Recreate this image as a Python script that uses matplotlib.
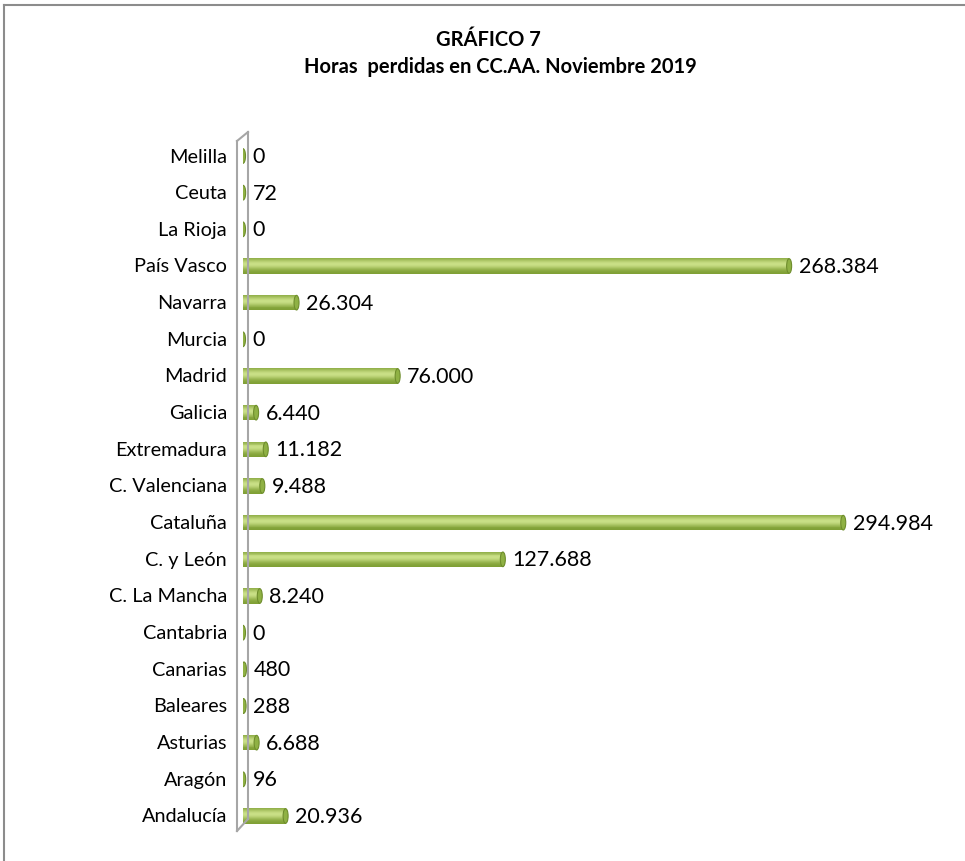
import numpy as np
import matplotlib.pyplot as plt
from matplotlib.patches import Ellipse
from matplotlib.colors import to_rgb

plt.rcParams['font.family'] = ['Lato', 'DejaVu Sans']

regiones = ['Andalucía', 'Aragón', 'Asturias', 'Baleares', 'Canarias', 'Cantabria',
            'C. La Mancha', 'C. y León', 'Cataluña', 'C. Valenciana', 'Extremadura',
            'Galicia', 'Madrid', 'Murcia', 'Navarra', 'País Vasco', 'La Rioja',
            'Ceuta', 'Melilla']
horas = [20936, 96, 6688, 288, 480, 0, 8240, 127688, 294984, 9488, 11182,
         6440, 76000, 0, 26304, 268384, 0, 72, 0]

W, H = 965, 862
fig = plt.figure(figsize=(W / 100, H / 100), dpi=100)

def fx(px):
    return px / W

def fy(py):
    return 1 - py / H

# outer frame (only left and top are visible in the reference)
fig.add_artist(plt.Line2D([fx(4), fx(4)], [fy(6), 0], color='#8c8c8c', lw=1.5))
fig.add_artist(plt.Line2D([fx(4), 1], [fy(6), fy(6)], color='#8c8c8c', lw=1.5))

# axes: x=0 at pixel 243, rows from 157 (top) to 817 (bottom)
XMAX = 344000
ax = fig.add_axes([fx(243), fy(835), fx(700), (835 - 135) / H])
ax.set_xlim(0, XMAX)
step = (817 - 157) / 18
ax.set_ylim(-(835 - 817) / step, 18 + (157 - 135) / step)
ax.axis('off')
px = XMAX / 700  # data units per pixel

y = np.arange(len(regiones))
bar_h = 0.42
dark = np.array(to_rgb('#7d9e32'))
light = np.array(to_rgb('#c9df86'))
n = 16
for k in range(n):
    t = (k + 0.5) / n
    # brightest a bit above the middle, darker at the edges
    s = np.exp(-((t - 0.62) / 0.32) ** 2)
    col = dark + (light - dark) * s
    ax.barh(y - bar_h / 2 + k * bar_h / n, horas, height=bar_h / n * 1.05,
            align='edge', color=col, lw=0)

# end caps of the cylinders
cap_w = 5 * px
for yi, v in zip(y, horas):
    ax.add_patch(Ellipse((v, yi), cap_w, bar_h * 0.95, facecolor='#8fb144',
                         edgecolor='#6e8d2c', lw=0.8, zorder=3))

# value labels
for yi, v in zip(y, horas):
    ax.text(v + cap_w / 2 + 7 * px, yi, f"{v:,}".replace(",", "."), va='center',
            ha='left', fontsize=15.5, color='black')

# category labels
for yi, r in zip(y, regiones):
    ax.text(-16 * px, yi, r, va='center', ha='right', fontsize=14.3,
            color='black')

# slanted back wall
wc = '#a6a6a6'
fig.add_artist(plt.Line2D([fx(237), fx(237)], [fy(142), fy(832)], color=wc, lw=1.5))
fig.add_artist(plt.Line2D([fx(248), fx(248)], [fy(133), fy(820)], color=wc, lw=1.5))
fig.add_artist(plt.Line2D([fx(237), fx(248)], [fy(142), fy(133)], color=wc, lw=1.5))
fig.add_artist(plt.Line2D([fx(237), fx(248)], [fy(832), fy(820)], color=wc, lw=1.5))

fig.text(fx(488), fy(40), 'GRÁFICO 7', ha='center', va='center',
         fontsize=14.5, fontweight='bold')
fig.text(fx(500), fy(67), 'Horas  perdidas en CC.AA. Noviembre 2019', ha='center',
         va='center', fontsize=14.5, fontweight='bold')

fig.savefig('out.png', dpi=100)
